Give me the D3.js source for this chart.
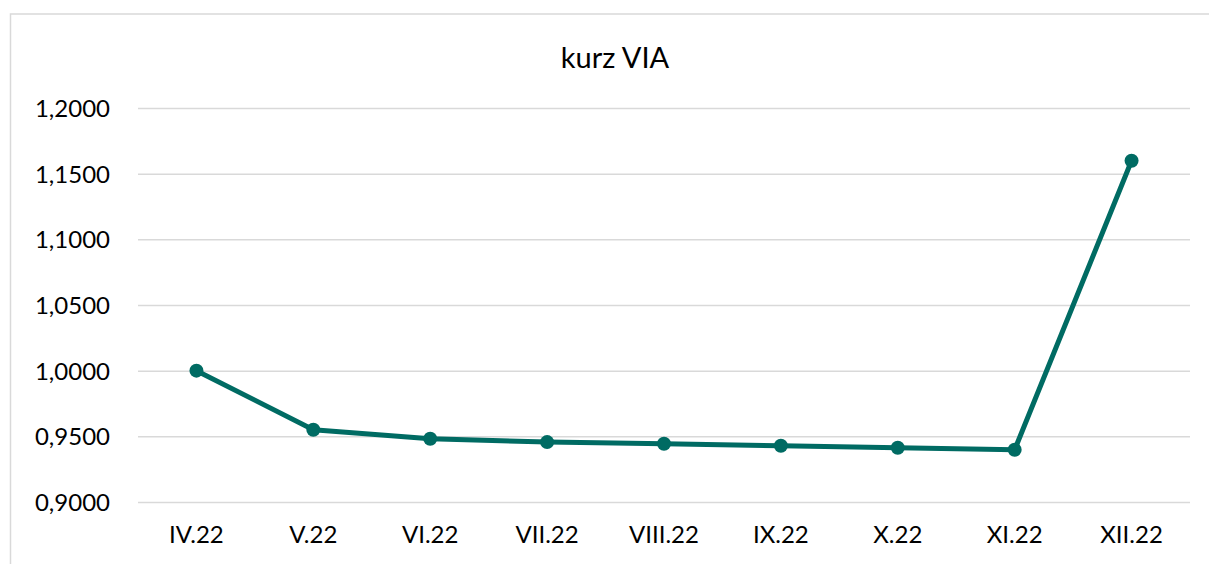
<!DOCTYPE html>
<html>
<head>
<meta charset="utf-8">
<script src="https://cdn.jsdelivr.net/npm/d3@7"></script>
<style>
  body { margin: 0; background: #fff; overflow: hidden; }
  svg text { font-family: Lato, "Open Sans", sans-serif; fill: #000; }
</style>
</head>
<body>
<div id="chart"></div>
<script>
const title = "kurz VIA";
const months = ["IV.22", "V.22", "VI.22", "VII.22", "VIII.22", "IX.22", "X.22", "XI.22", "XII.22"];
const rates = [1.0000, 0.9550, 0.9482, 0.9456, 0.9444, 0.9428, 0.9413, 0.9398, 1.1598];
const yTicks = [0.90, 0.95, 1.00, 1.05, 1.10, 1.15, 1.20];

const width = 1209, height = 564;
const margin = { top: 108, right: 19, bottom: 62, left: 138 };
const w = width - margin.left - margin.right;
const h = height - margin.top - margin.bottom;

const LINE_COLOR = "#006b63";
const GRID_COLOR = "#d9d9d9";

const svg = d3.select("#chart").append("svg")
    .attr("width", width)
    .attr("height", height);

// chart frame (right and bottom edges fall outside the picture)
svg.append("rect")
    .attr("x", 10.5).attr("y", 14)
    .attr("width", 1250).attr("height", 600)
    .attr("fill", "none")
    .attr("stroke", GRID_COLOR)
    .attr("stroke-width", 1.5);

svg.append("text")
    .attr("x", 615)
    .attr("y", 68)
    .attr("text-anchor", "middle")
    .style("font-size", "29px")
    .text(title);

const g = svg.append("g").attr("transform", `translate(${margin.left},${margin.top})`);

const x = d3.scaleBand().domain(months).range([0, w]);
const y = d3.scaleLinear().domain([0.9, 1.2]).range([h, 0]);

const fmt = v => d3.format(".4f")(v).replace(".", ",");

g.append("g")
    .call(d3.axisLeft(y).tickValues(yTicks).tickSize(-w).tickFormat(fmt).tickPadding(28))
    .call(sel => sel.select(".domain").remove())
    .call(sel => sel.selectAll(".tick line").attr("stroke", GRID_COLOR).attr("stroke-width", 1.5))
    .call(sel => sel.selectAll(".tick text").style("font-size", "24px").attr("dy", "0.36em"));

g.append("g")
    .attr("transform", `translate(0,${h})`)
    .call(d3.axisBottom(x).tickSize(0).tickPadding(24))
    .call(sel => sel.select(".domain").remove())
    .call(sel => sel.selectAll(".tick text").style("font-size", "24px"));

const line = d3.line()
    .x((d, i) => x(months[i]) + x.bandwidth() / 2)
    .y(d => y(d));

g.append("path")
    .datum(rates)
    .attr("d", line)
    .attr("fill", "none")
    .attr("stroke", LINE_COLOR)
    .attr("stroke-width", 5)
    .attr("stroke-linejoin", "round");

g.selectAll(".pt")
    .data(rates)
    .join("circle")
    .attr("class", "pt")
    .attr("cx", (d, i) => x(months[i]) + x.bandwidth() / 2)
    .attr("cy", d => y(d))
    .attr("r", 7)
    .attr("fill", LINE_COLOR);
</script>
</body>
</html>
